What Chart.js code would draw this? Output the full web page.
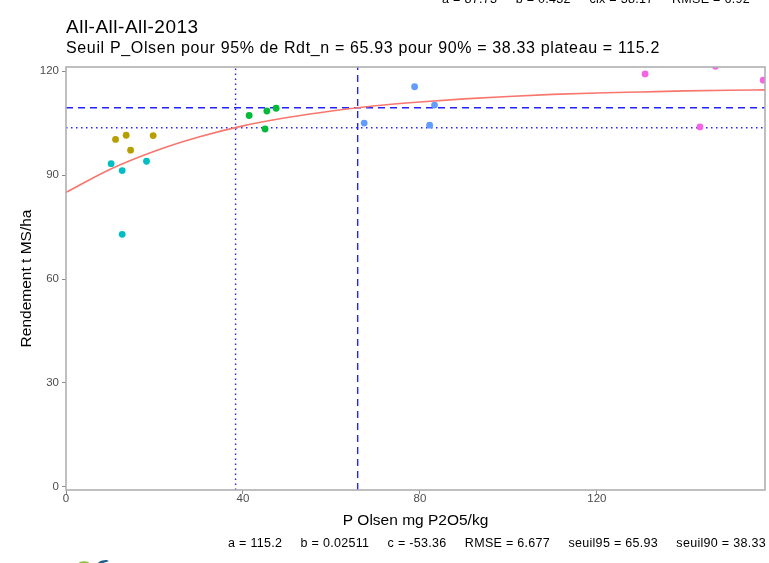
<!DOCTYPE html>
<html>
<head>
<meta charset="utf-8">
<script src="https://cdn.jsdelivr.net/npm/chart.js@4.4.1/dist/chart.umd.min.js"></script>
<style>
  html, body { margin: 0; padding: 0; background: #fff; }
  #wrap { width: 769px; height: 563px; }
</style>
</head>
<body>
<div id="wrap"><canvas id="fitchart"></canvas></div>
<script>
// observed points, one pair of arrays per group (P Olsen, rendement)
const groupColors = ['#B79F00', '#00BFC4', '#00BA38', '#619CFF', '#F564E3'];
const groupX = [
  [11.2, 13.6, 14.6, 19.7],
  [10.2, 12.7, 18.2, 12.7],
  [41.4, 45.0, 45.4, 47.5],
  [67.4, 78.8, 82.2, 83.3],
  [130.9, 146.8, 143.3, 157.6]
];
const groupY = [
  [100.3, 101.5, 97.2, 101.4],
  [93.3, 91.3, 94.0, 72.9],
  [107.2, 103.3, 108.5, 109.3],
  [105.0, 115.5, 104.4, 110.2],
  [119.2, 121.4, 103.9, 117.4]
];

// fitted curve
const curveX = [0, 10, 20, 30, 40, 50, 60, 70, 80, 90, 100, 110, 120, 130, 140, 150, 158];
const curveY = [85.0, 91.7, 96.9, 101.0, 104.2, 106.6, 108.5, 110.0, 111.1, 112.0, 112.7, 113.3, 113.7, 114.0, 114.3, 114.5, 114.6];

// thresholds
const seuil95 = 65.93;
const seuil90 = 38.33;
const rdt95 = 109.44;
const rdt90 = 103.68;

const xTicks = [0, 40, 80, 120];
const yTicks = [0, 30, 60, 90, 120];
const xRange = [0, 158];
const yRange = [-0.9, 121.2];

const titleText = 'All-All-All-2013';
const subtitleText = 'Seuil P_Olsen pour 95% de Rdt_n = 65.93 pour 90% = 38.33 plateau = 115.2';
const captionItems = ['a = 115.2', 'b = 0.02511', 'c = -53.36', 'RMSE = 6.677', 'seuil95 = 65.93', 'seuil90 = 38.33'];
const topCutItems = ['a = 87.73', 'b = 0.432', 'cix = 38.17', 'RMSE = 6.92'];

const FONT = '"Liberation Sans", Arial, sans-serif';
const BLUE = '#2222FF';

const pointSets = groupX.map((xs, g) => ({
  type: 'scatter',
  data: xs.map((x, i) => ({ x: x, y: groupY[g][i] })),
  backgroundColor: groupColors[g],
  borderWidth: 0,
  pointRadius: 3.4,
  order: 0
}));

function refLine(pts, dash) {
  return {
    type: 'line',
    data: pts,
    borderColor: BLUE,
    borderWidth: 1.4,
    borderDash: dash,
    pointRadius: 0,
    fill: false,
    order: 2
  };
}

// draw a row of items between x0 and x1 with equal gaps
function drawSpread(ctx, items, x0, x1, y) {
  const widths = items.map(t => ctx.measureText(t).width);
  const total = widths.reduce((s, w) => s + w, 0);
  const gap = (x1 - x0 - total) / (items.length - 1);
  let x = x0;
  items.forEach((t, i) => {
    ctx.fillText(t, x, y);
    x += widths[i] + gap;
  });
}

const textPlugin = {
  id: 'texts',
  beforeDraw(chart) {
    const ctx = chart.ctx;
    ctx.save();
    ctx.fillStyle = '#fff';
    ctx.fillRect(0, 0, chart.width, chart.height);
    ctx.restore();
  },
  afterDraw(chart) {
    const ctx = chart.ctx;
    const a = chart.chartArea;
    ctx.save();
    // panel border
    ctx.strokeStyle = '#B0B0B0';
    ctx.lineWidth = 1.6;
    ctx.strokeRect(a.left, a.top, a.right - a.left, a.bottom - a.top);

    ctx.fillStyle = '#000';
    ctx.textBaseline = 'alphabetic';
    ctx.textAlign = 'left';
    ctx.font = '19px ' + FONT;
    ctx.letterSpacing = '0.5px';
    ctx.fillText(titleText, 66, 33);
    ctx.font = '16px ' + FONT;
    ctx.letterSpacing = '0.65px';
    ctx.fillText(subtitleText, 66, 53);

    ctx.font = '12.5px ' + FONT;
    ctx.letterSpacing = '0.3px';
    drawSpread(ctx, captionItems, 228, 766, 547);
    drawSpread(ctx, topCutItems, 442, 750, 3);
    ctx.letterSpacing = '0px';

    // bit of logo cut at the bottom edge
    ctx.fillStyle = '#8DBF3C';
    ctx.beginPath();
    ctx.ellipse(84, 563, 5, 1.8, 0, Math.PI, 2 * Math.PI);
    ctx.fill();
    ctx.fillStyle = '#1C5E8C';
    ctx.beginPath();
    ctx.ellipse(103, 563, 6, 2.5, -0.3, Math.PI, 2 * Math.PI);
    ctx.fill();
    ctx.restore();
  }
};

new Chart(document.getElementById('fitchart'), {
  plugins: [textPlugin],
  data: {
    datasets: [
      {
        type: 'line',
        data: curveX.map((x, i) => ({ x: x, y: curveY[i] })),
        borderColor: '#F8766D',
        borderWidth: 1.6,
        pointRadius: 0,
        cubicInterpolationMode: 'monotone',
        fill: false,
        order: 1
      },
      refLine([{ x: xRange[0], y: rdt95 }, { x: xRange[1], y: rdt95 }], [7, 5]),
      refLine([{ x: xRange[0], y: rdt90 }, { x: xRange[1], y: rdt90 }], [1.5, 3.5]),
      refLine([{ x: seuil95, y: yRange[0] }, { x: seuil95, y: yRange[1] }], [7, 5]),
      refLine([{ x: seuil90, y: yRange[0] }, { x: seuil90, y: yRange[1] }], [1.5, 3.5]),
      ...pointSets
    ]
  },
  options: {
    responsive: true,
    maintainAspectRatio: false,
    animation: false,
    layout: {
      padding: { top: 67, right: 4, left: 0, bottom: 33 }
    },
    plugins: {
      legend: { display: false },
      tooltip: { enabled: false }
    },
    scales: {
      x: {
        type: 'linear',
        min: xRange[0],
        max: xRange[1],
        afterBuildTicks: (s) => { s.ticks = xTicks.map(v => ({ value: v })); },
        afterFit: (s) => { s.height = 40; },
        border: { display: false },
        grid: { drawOnChartArea: false, drawTicks: true, tickLength: 4, color: '#888' },
        ticks: { color: '#4D4D4D', font: { family: FONT, size: 11.5 }, padding: -2, maxRotation: 0 },
        title: {
          display: true,
          text: 'P Olsen mg P2O5/kg',
          color: '#000',
          font: { family: FONT, size: 15.5 },
          padding: { top: 0, bottom: 0 }
        }
      },
      y: {
        type: 'linear',
        min: yRange[0],
        max: yRange[1],
        afterBuildTicks: (s) => { s.ticks = yTicks.map(v => ({ value: v })); },
        afterFit: (s) => { s.width = 66; },
        border: { display: false },
        grid: { drawOnChartArea: false, drawTicks: true, tickLength: 4, color: '#888' },
        ticks: { color: '#4D4D4D', font: { family: FONT, size: 11.5 }, padding: 3 },
        title: {
          display: true,
          text: 'Rendement t MS/ha',
          color: '#000',
          font: { family: FONT, size: 15.5 },
          padding: { top: 17, bottom: 0 }
        }
      }
    }
  }
});
</script>
</body>
</html>
